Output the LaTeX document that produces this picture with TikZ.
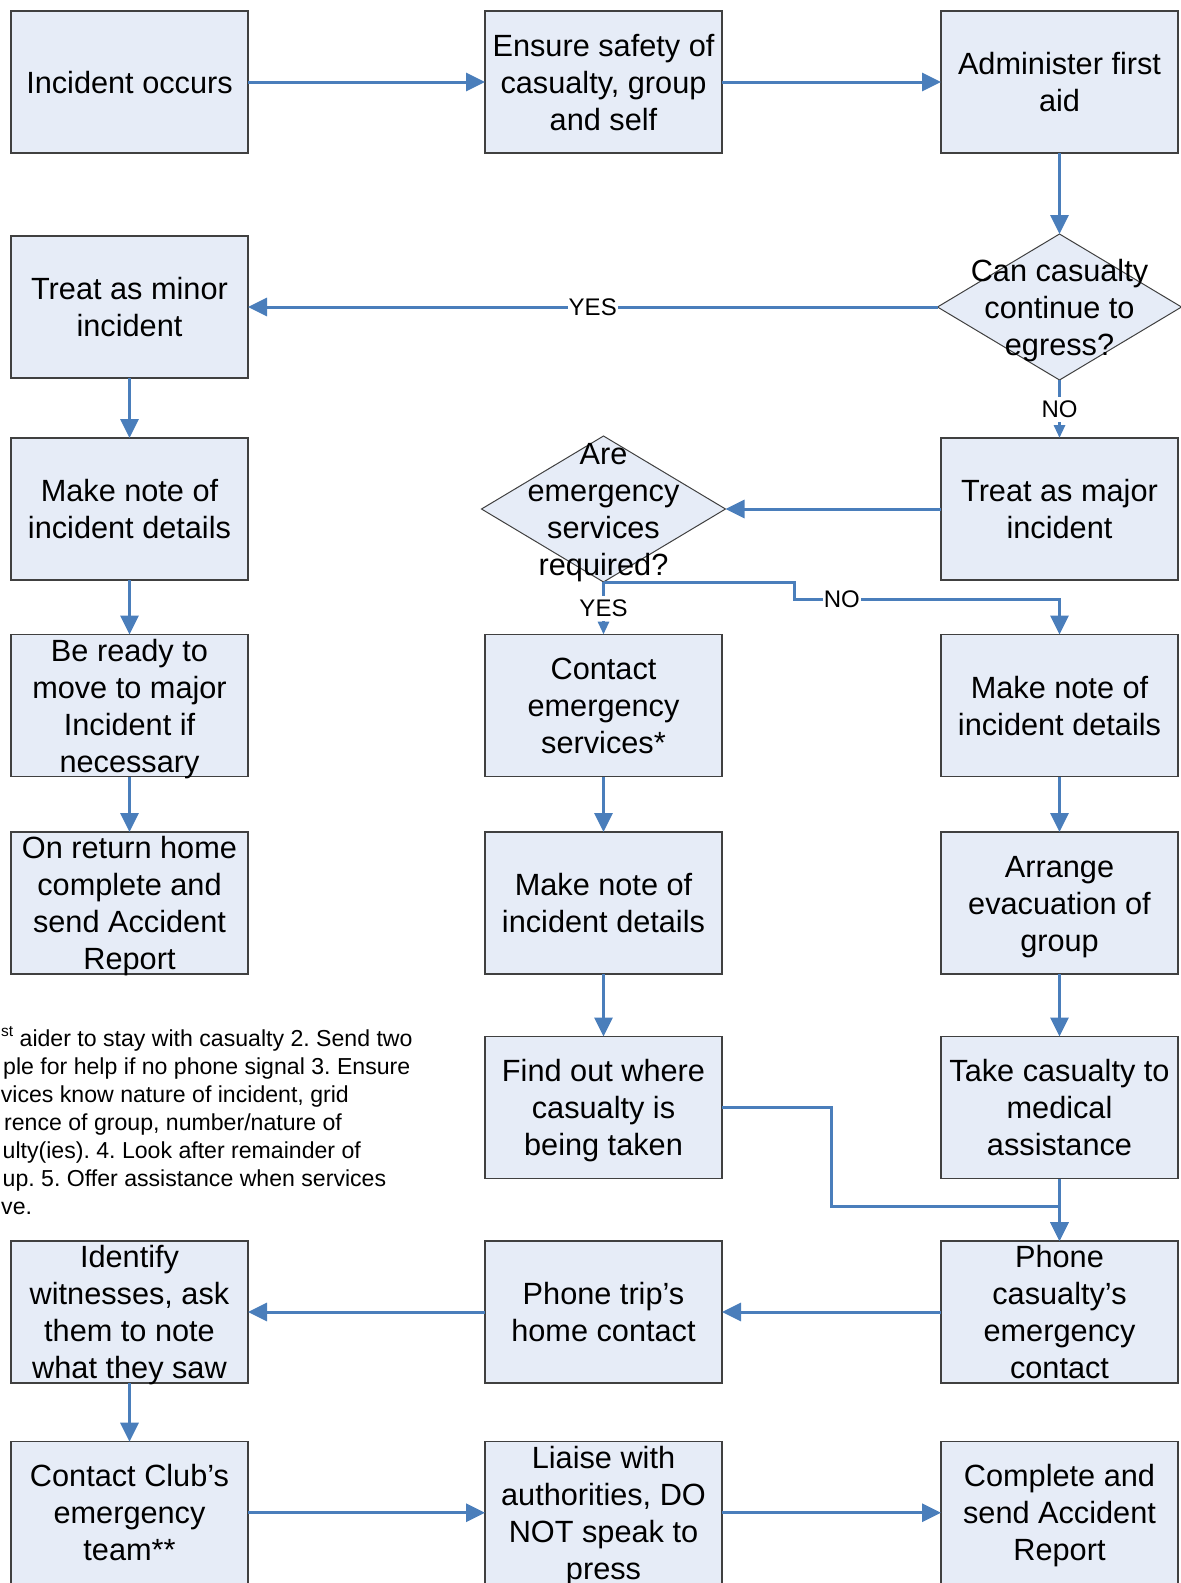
\documentclass[tikz,border=0pt]{standalone}
\usepackage{fontspec}
\setmainfont{Liberation Sans}
\usetikzlibrary{arrows.meta,shapes.geometric}
\definecolor{boxfill}{HTML}{E6ECF7}
\definecolor{boxline}{HTML}{404040}
\definecolor{conn}{HTML}{4A7EBB}
\newcommand{\ls}{\rule[-7.5pt]{0pt}{37pt}}
\frenchspacing
\begin{document}
\begin{tikzpicture}[x=1pt,y=-1pt,
  box/.style={draw=boxline, line width=1.4pt, fill=boxfill, minimum width=237pt, minimum height=142pt, inner sep=0pt, outer sep=0pt},
  dia/.style={diamond, draw=boxline, line width=1pt, fill=boxfill, minimum width=244pt, minimum height=146pt, inner sep=0pt, outer sep=0pt},
  txt/.style={inner sep=0pt, align=center, font=\fontsize{30.7}{37}\selectfont},
  lbl/.style={fill=white, inner xsep=1pt, inner ysep=4pt, font=\fontsize{24}{28}\selectfont},
  arr/.style={draw=conn, line width=3pt, -{Triangle[length=19pt,width=18pt]}},
  sarr/.style={draw=conn, line width=3pt, -{Triangle[length=13pt,width=11pt]}},
  note/.style={inner sep=0pt, anchor=base west, font=\fontsize{23.1}{27.7}\selectfont}
]
\useasboundingbox (0,0) rectangle (1181,1583);
% row 1
\node[box] (b1) at (129.5,82) {};
\node[txt] (b1t) at (b1.center) {\ls Incident occurs};
\node[box] (b2) at (603.5,82) {};
\node[txt] (b2t) at (b2.center) {\ls Ensure safety of\\\ls casualty, group\\\ls and self};
\node[box] (b3) at (1059.5,82) {};
\node[txt] (b3t) at (b3.center) {\ls Administer first\\\ls aid};
% row 2
\node[box] (b4) at (129.5,307) {};
\node[txt] (b4t) at (b4.center) {\ls Treat as minor\\\ls incident};
\node[dia] (d1) at (1059.5,307) {};
\node[txt] (d1t) at (d1.center) {\ls Can casualty\\\ls continue to\\\ls egress?};
% row 3
\node[box] (b6) at (129.5,509) {};
\node[txt] (b6t) at (b6.center) {\ls Make note of\\\ls incident details};
\node[dia] (d2) at (603.5,509) {};
\node[txt] (d2t) at (d2.center) {\ls Are\\\ls emergency\\\ls services\\\ls required?};
\node[box] (b5) at (1059.5,509) {};
\node[txt] (b5t) at (b5.center) {\ls Treat as major\\\ls incident};
% row 4
\node[box] (b9) at (129.5,705.5) {};
\node[txt] (b9t) at (b9.center) {\ls Be ready to\\\ls move to major\\\ls Incident if\\\ls necessary};
\node[box] (b7) at (603.5,705.5) {};
\node[txt] (b7t) at (b7.center) {\ls Contact\\\ls emergency\\\ls services*};
\node[box] (b8) at (1059.5,705.5) {};
\node[txt] (b8t) at (b8.center) {\ls Make note of\\\ls incident details};
% row 5
\node[box] (b14) at (129.5,903) {};
\node[txt] (b14t) at (b14.center) {\ls On return home\\\ls complete and\\\ls send Accident\\\ls Report};
\node[box] (b10) at (603.5,903) {};
\node[txt] (b10t) at (b10.center) {\ls Make note of\\\ls incident details};
\node[box] (b12) at (1059.5,903) {};
\node[txt] (b12t) at (b12.center) {\ls Arrange\\\ls evacuation of\\\ls group};
% row 6
\node[box] (b11) at (603.5,1107.5) {};
\node[txt] (b11t) at (b11.center) {\ls Find out where\\\ls casualty is\\\ls being taken};
\node[box] (b13) at (1059.5,1107.5) {};
\node[txt] (b13t) at (b13.center) {\ls Take casualty to\\\ls medical\\\ls assistance};
% row 7
\node[box] (b17) at (129.5,1312) {};
\node[txt] (b17t) at (b17.center) {\ls Identify\\\ls witnesses, ask\\\ls them to note\\\ls what they saw};
\node[box] (b16) at (603.5,1312) {};
\node[txt] (b16t) at (b16.center) {\ls Phone trip’s\\\ls home contact};
\node[box] (b15) at (1059.5,1312) {};
\node[txt] (b15t) at (b15.center) {\ls Phone\\\ls casualty’s\\\ls emergency\\\ls contact};
% row 8
\node[box] (b18) at (129.5,1512.7) {};
\node[txt] (b18t) at (b18.center) {\ls Contact Club’s\\\ls emergency\\\ls team**};
\node[box] (b19) at (603.5,1512.7) {};
\node[txt] (b19t) at (b19.center) {\ls Liaise with\\\ls authorities, DO\\\ls NOT speak to\\\ls press};
\node[box] (b20) at (1059.5,1512.7) {};
\node[txt] (b20t) at (b20.center) {\ls Complete and\\\ls send Accident\\\ls Report};
% footnote (cut off at the left edge)
\node[note] (n1) at (1,1046.7) {{\fontsize{15.5}{15.5}\selectfont\raisebox{10.5pt}{st}} aider to stay with casualty 2. Send two};
\node[note] (n2) at (3,1074.6) {ple for help if no phone signal 3. Ensure};
\node[note] (n3) at (0.7,1102.5) {vices know nature of incident, grid};
\node[note] (n4) at (4,1130.4) {rence of group, number/nature of};
\node[note] (n5) at (2.5,1158.3) {ulty(ies). 4. Look after remainder of};
\node[note] (n6) at (2.5,1186.2) {up. 5. Offer assistance when services};
\node[note] (n7) at (1,1214.1) {ve.};
% connectors
\draw[arr] (b1) -- (b2);
\draw[arr] (b2) -- (b3);
\draw[arr] (b3) -- (d1);
\draw[arr] (d1) -- node[lbl] (yes1) {YES} (b4);
\draw[sarr] (d1) -- node[lbl] (no1) {NO} (b5);
\draw[arr] (b5) -- (d2);
\draw[sarr] (d2) -- node[lbl] (yes2) {YES} (b7);
\coordinate (e1) at (794,582);
\coordinate (e1b) at (794,599);
\draw[arr] (d2.south) -- (e1) -- (e1b) -- node[lbl,pos=0.18] (no2) {NO} (e1b -| b8.north) -- (b8.north);
\draw[arr] (b4) -- (b6);
\draw[arr] (b6) -- (b9);
\draw[arr] (b9) -- (b14);
\draw[arr] (b7) -- (b10);
\draw[arr] (b10) -- (b11);
\draw[arr] (b8) -- (b12);
\draw[arr] (b12) -- (b13);
\draw[arr] (b13) -- (b15);
\coordinate (e2) at (831,1206);
\draw[arr] (b11.east) -| (e2) -| (b15.north);
\draw[arr] (b15) -- (b16);
\draw[arr] (b16) -- (b17);
\draw[arr] (b17) -- (b18);
\draw[arr] (b18) -- (b19);
\draw[arr] (b19) -- (b20);
\end{tikzpicture}
\end{document}
